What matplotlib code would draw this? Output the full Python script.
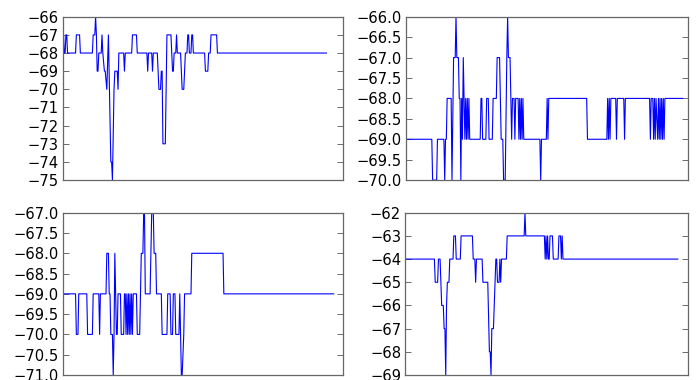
import matplotlib
matplotlib.use("Agg")
import matplotlib.pyplot as plt
from matplotlib.ticker import MultipleLocator, ScalarFormatter

# signal strength traces (sample index, dBm) for the four receivers
t1 = [0, 1, 2, 3, 4, 5, 6, 16, 17, 21, 22, 37, 38, 40, 41, 42, 43, 44, 45, 48,
      49, 50, 52, 53, 55, 57, 60, 61, 62, 64, 65, 68, 69, 70, 76, 77, 78, 86, 87, 92,
      93, 105, 106, 107, 111, 112, 113, 118, 119, 120, 122, 123, 124, 125, 128, 130, 135, 136, 137, 138,
      139, 141, 142, 143, 147, 148, 149, 151, 153, 155, 156, 157, 158, 160, 161, 162, 163, 177, 178, 181,
      182, 184, 185, 192, 193, 329]
rssi1 = [-67, -67, -68, -68, -67, -67, -68, -68, -67, -67, -68, -68, -67, -67, -66, -67, -69, -69, -68, -68,
         -67, -68, -69, -69, -70, -67, -74, -74, -75, -70, -69, -69, -70, -68, -68, -69, -68, -68, -67, -67,
         -68, -68, -69, -68, -68, -69, -68, -68, -69, -70, -70, -69, -69, -73, -73, -67, -67, -68, -69, -69,
         -68, -68, -67, -68, -68, -69, -70, -70, -68, -68, -67, -67, -68, -68, -67, -67, -68, -68, -69, -69,
         -68, -68, -67, -67, -68, -68]

t2 = [0, 32, 33, 38, 39, 47, 48, 49, 50, 51, 56, 57, 59, 61, 62, 63, 65, 66, 67, 68,
      69, 70, 71, 72, 73, 74, 75, 76, 77, 78, 79, 91, 92, 93, 94, 95, 99, 100, 102, 103,
      107, 108, 112, 113, 116, 117, 118, 120, 121, 123, 125, 126, 127, 129, 130, 131, 132, 134, 135, 136,
      139, 140, 141, 142, 143, 144, 145, 146, 166, 167, 168, 174, 175, 176, 177, 224, 225, 249, 250, 251,
      252, 253, 254, 260, 261, 262, 270, 271, 272, 302, 303, 304, 306, 307, 308, 309, 310, 312, 313, 314,
      315, 316, 317, 318, 319, 320, 321, 343]
rssi2 = [-69, -69, -70, -70, -69, -69, -70, -69, -69, -68, -68, -70, -67, -67, -66, -67, -67, -68, -68, -70,
         -68, -69, -67, -68, -69, -68, -69, -68, -69, -68, -69, -69, -69, -68, -68, -69, -69, -68, -68, -69,
         -69, -68, -68, -67, -67, -68, -69, -69, -70, -70, -67, -66, -67, -67, -68, -69, -68, -68, -69, -68,
         -68, -69, -68, -69, -68, -69, -68, -69, -69, -70, -69, -69, -68, -69, -68, -68, -69, -69, -68, -69,
         -68, -69, -68, -68, -69, -68, -68, -69, -68, -68, -69, -68, -68, -69, -68, -69, -68, -69, -68, -69,
         -68, -69, -68, -69, -68, -69, -68, -68]

t3 = [0, 16, 17, 19, 20, 30, 31, 37, 38, 45, 46, 47, 54, 55, 57, 58, 59, 60, 62, 63,
      64, 65, 66, 67, 68, 69, 72, 73, 76, 77, 78, 79, 80, 81, 82, 83, 84, 85, 86, 87,
      88, 92, 93, 96, 97, 98, 100, 101, 102, 103, 109, 110, 111, 113, 114, 116, 117, 123, 124, 130,
      131, 134, 135, 137, 138, 140, 141, 145, 146, 147, 148, 149, 151, 152, 160, 161, 200, 201, 338]
rssi3 = [-69, -69, -70, -70, -69, -69, -70, -70, -69, -69, -70, -69, -69, -68, -68, -69, -69, -70, -70, -71,
         -70, -68, -69, -70, -70, -69, -69, -70, -70, -69, -69, -70, -69, -70, -69, -70, -69, -70, -69, -70,
         -69, -69, -70, -70, -69, -68, -68, -67, -67, -69, -69, -68, -67, -67, -68, -68, -69, -69, -70, -70,
         -69, -69, -70, -70, -69, -69, -70, -70, -69, -70, -71, -71, -70, -69, -69, -68, -68, -69, -69]

t4 = [0, 36, 37, 40, 41, 43, 44, 45, 47, 48, 49, 50, 51, 52, 53, 54, 55, 59, 60, 62,
      63, 68, 69, 83, 84, 86, 87, 88, 95, 96, 102, 104, 105, 106, 107, 109, 111, 112, 113, 114,
      116, 117, 118, 119, 125, 126, 147, 148, 149, 172, 173, 174, 175, 176, 177, 178, 179, 182, 183, 189,
      190, 192, 193, 194, 195, 337]
rssi4 = [-64, -64, -65, -65, -64, -64, -65, -66, -66, -67, -67, -69, -66, -65, -65, -65, -64, -64, -63, -63,
         -64, -64, -63, -63, -64, -64, -65, -64, -64, -65, -65, -68, -68, -69, -67, -67, -65, -64, -64, -65,
         -65, -64, -65, -64, -64, -63, -63, -62, -63, -63, -64, -63, -64, -63, -64, -64, -63, -63, -64, -64,
         -63, -63, -64, -63, -64, -64]

panels = [
    (t1, rssi1, (-75, -66), 1.0, [0.090, 0.526, 0.4025, 0.430]),
    (t2, rssi2, (-70, -66), 0.5, [0.5825, 0.526, 0.405, 0.430]),
    (t3, rssi3, (-71, -67), 0.5, [0.090, 0.0132, 0.4025, 0.427]),
    (t4, rssi4, (-69, -62), 1.0, [0.5815, 0.0132, 0.406, 0.427]),
]

fig = plt.figure(figsize=(6.97, 3.80), dpi=100)

for t, rssi, ylim, step, rect in panels:
    ax = fig.add_axes(rect)
    ax.plot(t, rssi, color="b", linewidth=0.8)
    ax.set_xlim(0, 350)
    ax.set_ylim(*ylim)
    ax.yaxis.set_major_locator(MultipleLocator(step))
    fmt = ScalarFormatter(useOffset=False)
    ax.yaxis.set_major_formatter(fmt)
    ax.set_xticks([])
    ax.tick_params(axis="y", direction="in", left=True, right=True, length=4,
                   width=0.6, color="#555555", labelsize=10.6, pad=3)
    for sp in ax.spines.values():
        sp.set_color("#666666")
        sp.set_linewidth(0.9)

fig.savefig("out.png", dpi=100)
